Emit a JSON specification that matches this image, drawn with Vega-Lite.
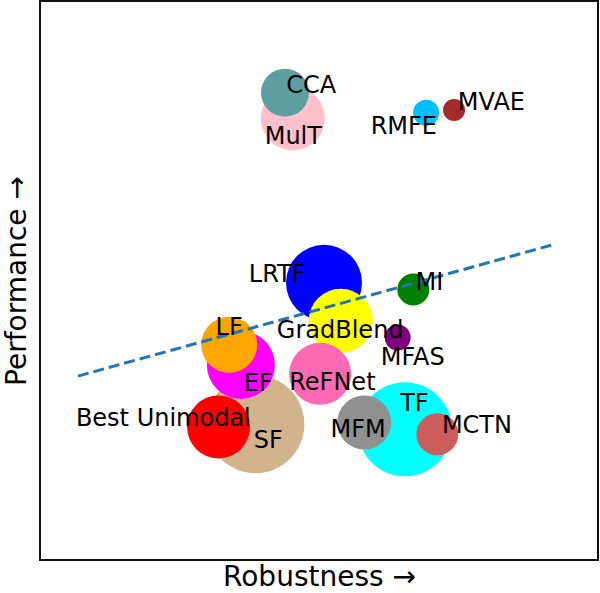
{
  "$schema": "https://vega.github.io/schema/vega-lite/v6.json",
  "width": 558,
  "height": 559,
  "autosize": {"type": "none"},
  "padding": {"left": 40, "top": 1, "right": 2, "bottom": 33},
  "config": {
    "view": {"stroke": "#111111", "strokeWidth": 2},
    "font": "DejaVu Sans"
  },
  "datasets": {
    "methods": [
      {"name": "MulT", "robustness": 45.3, "performance": 79.0, "r": 32, "lx": 45.4, "ly": 75.6},
      {"name": "CCA", "robustness": 43.9, "performance": 83.6, "r": 24, "lx": 48.6, "ly": 84.8},
      {"name": "RMFE", "robustness": 69.2, "performance": 80.0, "r": 13, "lx": 65.2, "ly": 77.4},
      {"name": "MVAE", "robustness": 74.2, "performance": 80.5, "r": 11, "lx": 80.9, "ly": 81.8},
      {"name": "LRTF", "robustness": 50.9, "performance": 49.6, "r": 38, "lx": 42.5, "ly": 51.0},
      {"name": "GradBlend", "robustness": 53.9, "performance": 42.8, "r": 32, "lx": 53.8, "ly": 40.9},
      {"name": "MI", "robustness": 66.9, "performance": 48.4, "r": 16, "lx": 69.8, "ly": 49.6},
      {"name": "MFAS", "robustness": 64.1, "performance": 39.8, "r": 13, "lx": 66.8, "ly": 36.2},
      {"name": "SF", "robustness": 38.6, "performance": 24.3, "r": 49, "lx": 40.9, "ly": 21.3},
      {"name": "Best Unimodal", "robustness": 32.0, "performance": 23.8, "r": 31.5, "lx": 22.1, "ly": 25.3},
      {"name": "EF", "robustness": 36.0, "performance": 34.9, "r": 34, "lx": 39.1, "ly": 31.4},
      {"name": "LF", "robustness": 33.9, "performance": 38.5, "r": 28, "lx": 33.9, "ly": 41.5},
      {"name": "ReFNet", "robustness": 50.2, "performance": 33.3, "r": 31, "lx": 52.4, "ly": 31.7},
      {"name": "TF", "robustness": 65.4, "performance": 23.4, "r": 47, "lx": 67.1, "ly": 27.9},
      {"name": "MFM", "robustness": 58.1, "performance": 24.6, "r": 27, "lx": 57.0, "ly": 23.2},
      {"name": "MCTN", "robustness": 71.2, "performance": 22.5, "r": 21, "lx": 78.3, "ly": 24.0}
    ],
    "trend": [
      {"robustness": 6.8, "performance": 32.9},
      {"robustness": 92.3, "performance": 56.5}
    ]
  },
  "layer": [
    {
      "data": {"name": "methods"},
      "mark": {"type": "point", "filled": true, "opacity": 1, "strokeWidth": 0, "shape": "circle"},
      "encoding": {
        "x": {
          "field": "robustness", "type": "quantitative",
          "scale": {"domain": [0, 100], "nice": false, "zero": false},
          "axis": {"domain": false, "ticks": false, "labels": false, "grid": false, "title": "Robustness →", "titleFontSize": 28, "titleFontWeight": "normal", "titleColor": "#000000", "titlePadding": 3}
        },
        "y": {
          "field": "performance", "type": "quantitative",
          "scale": {"domain": [0, 100], "nice": false, "zero": false},
          "axis": {"domain": false, "ticks": false, "labels": false, "grid": false, "title": "Performance →", "titleFontSize": 28, "titleFontWeight": "normal", "titleColor": "#000000", "titlePadding": 9}
        },
        "size": {
          "field": "r", "type": "quantitative",
          "scale": {"type": "pow", "exponent": 2, "domain": [0, 50], "range": [0, 10000]},
          "legend": null
        },
        "color": {
          "field": "name", "type": "nominal",
          "scale": {
            "domain": ["MulT", "CCA", "RMFE", "MVAE", "LRTF", "GradBlend", "MI", "MFAS", "SF", "Best Unimodal", "EF", "LF", "ReFNet", "TF", "MFM", "MCTN"],
            "range": ["#FFC0CB", "#5F9EA0", "#00BFFF", "#A52A2A", "#0000FF", "#FFFF00", "#008000", "#800080", "#D2B48C", "#FF0000", "#FF00FF", "#FFA500", "#FF69B4", "#00FFFF", "#909090", "#CD5C5C"]
          },
          "legend": null
        }
      }
    },
    {
      "data": {"name": "trend"},
      "mark": {"type": "line", "color": "#1f77b4", "strokeWidth": 3, "strokeDash": [11, 5]},
      "encoding": {
        "x": {"field": "robustness", "type": "quantitative"},
        "y": {"field": "performance", "type": "quantitative"}
      }
    },
    {
      "data": {"name": "methods"},
      "mark": {"type": "text", "fontSize": 24, "align": "center", "baseline": "middle", "color": "#000000"},
      "encoding": {
        "x": {"field": "lx", "type": "quantitative"},
        "y": {"field": "ly", "type": "quantitative"},
        "text": {"field": "name", "type": "nominal"}
      }
    }
  ]
}
